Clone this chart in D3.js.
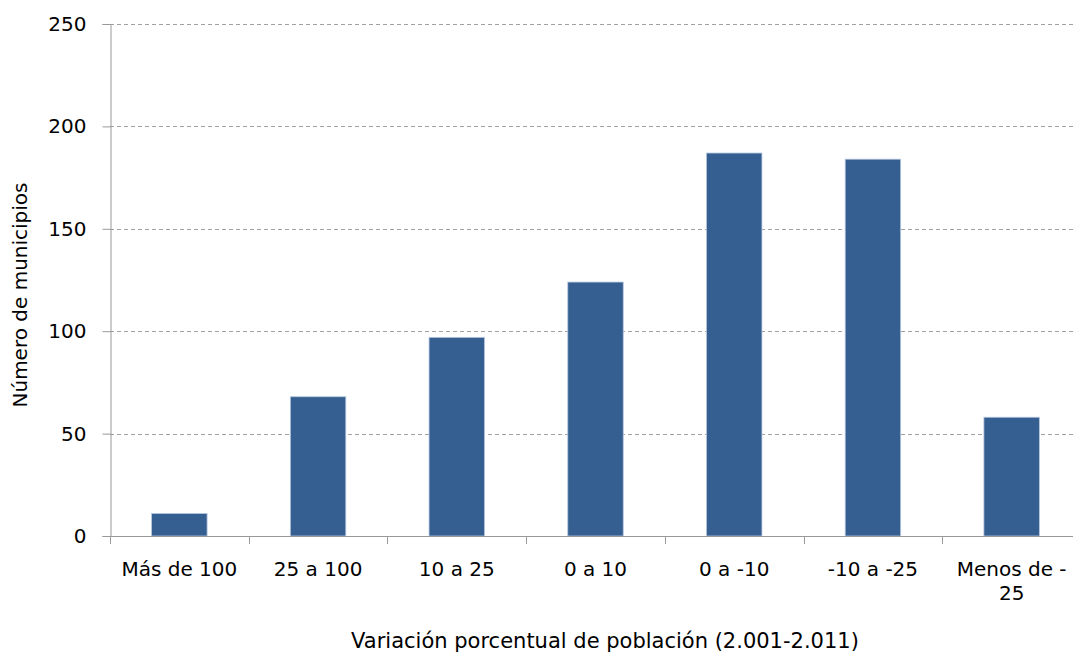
<!DOCTYPE html>
<html lang="es">
<head>
<meta charset="utf-8">
<title>Municipios</title>
<script src="https://cdn.jsdelivr.net/npm/d3@7"></script>
<style>
  body { margin: 0; background: #fff; }
  text { font-family: "DejaVu Sans", sans-serif; fill: #000; }
</style>
</head>
<body>
<script>
// categorias y valores
var categories = ["Más de 100", "25 a 100", "10 a 25", "0 a 10", "0 a -10", "-10 a -25", "Menos de -|25"];
var values = [11, 68, 97, 124, 187, 184, 58];
var yTicks = [0, 50, 100, 150, 200, 250];

var width = 1073, height = 655;
var plotLeft = 110, plotTop = 24, plotW = 971, plotBottom = 536;

var svg = d3.select("body").append("svg")
    .attr("width", width)
    .attr("height", height);

var x = d3.scaleBand()
    .domain(categories)
    .range([plotLeft, plotLeft + plotW])
    .paddingInner(0.6)
    .paddingOuter(0.3);

var xb = d3.scaleBand().domain(categories).range([plotLeft, plotLeft + plotW]);

var y = d3.scaleLinear().domain([0, 250]).range([plotBottom, plotTop]);

// grid lines
svg.append("g").selectAll("line")
    .data(yTicks.filter(function(d){ return d > 0; }))
    .join("line")
    .attr("x1", plotLeft).attr("x2", width)
    .attr("y1", function(d){ return Math.round(y(d)) + 0.5; })
    .attr("y2", function(d){ return Math.round(y(d)) + 0.5; })
    .attr("stroke", "#a0a0a0")
    .attr("stroke-dasharray", "4,3");

// bars
svg.append("g").selectAll("rect")
    .data(values)
    .join("rect")
    .attr("x", function(d, i){ return x(categories[i]); })
    .attr("width", x.bandwidth())
    .attr("y", function(d){ return y(d); })
    .attr("height", function(d){ return plotBottom - y(d); })
    .attr("fill", "#365f91")
    .attr("stroke", "#b8c8e0")
    .attr("stroke-width", 0.8);

// y axis
var yAxis = d3.axisLeft(y).tickValues(yTicks).tickSize(8).tickPadding(16);
var gy = svg.append("g").attr("transform", "translate(" + (plotLeft + 0.5) + ",0)").call(yAxis);
gy.select(".domain").attr("stroke", "#999");
gy.selectAll(".tick line").attr("stroke", "#999");
gy.selectAll(".tick text")
    .style("font-size", "20px")
    .style("font-family", "DejaVu Sans, sans-serif")
    .attr("fill", "#000");

// x axis line and ticks
svg.append("line")
    .attr("x1", plotLeft).attr("x2", width)
    .attr("y1", plotBottom + 0.5).attr("y2", plotBottom + 0.5)
    .attr("stroke", "#999");

svg.append("g").selectAll("line")
    .data(categories)
    .join("line")
    .attr("x1", function(d){ return Math.round(xb(d)) + 0.5; })
    .attr("x2", function(d){ return Math.round(xb(d)) + 0.5; })
    .attr("y1", plotBottom).attr("y2", plotBottom + 8)
    .attr("stroke", "#999");

// x labels
svg.append("g").selectAll("text")
    .data(categories)
    .join("text")
    .attr("y", plotBottom + 40)
    .attr("text-anchor", "middle")
    .style("font-size", "20px")
    .each(function(d){
        var parts = d.split("|");
        var t = d3.select(this);
        parts.forEach(function(p, k){
            t.append("tspan")
                .attr("x", x(d) + x.bandwidth() / 2)
                .attr("dy", k === 0 ? 0 : 24)
                .text(p);
        });
    });

// axis titles
svg.append("text")
    .attr("transform", "translate(27,295) rotate(-90)")
    .attr("text-anchor", "middle")
    .style("font-size", "20px")
    .text("Número de municipios");

svg.append("text")
    .attr("x", 605)
    .attr("y", 648)
    .attr("text-anchor", "middle")
    .style("font-size", "21px")
    .text("Variación porcentual de población (2.001-2.011)");
</script>
</body>
</html>
